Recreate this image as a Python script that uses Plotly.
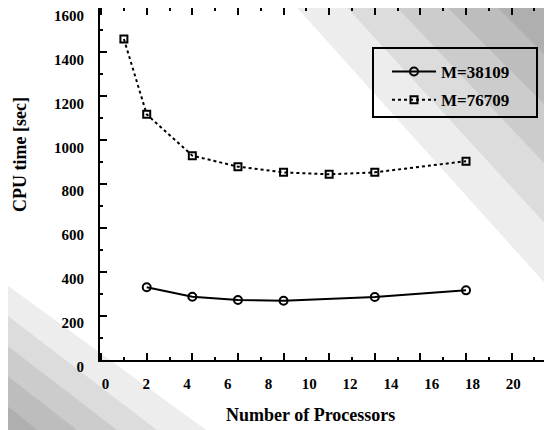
import plotly.graph_objects as go

# ---- data ----
procs_a = [2, 4, 6, 8, 12, 16]
cpu_a = [331, 288, 273, 270, 287, 317]
name_a = "M=38109"

procs_b = [1, 2, 4, 6, 8, 10, 12, 16]
cpu_b = [1461, 1118, 930, 880, 854, 845, 854, 905]
name_b = "M=76709"

x_tick_labels = [0, 2, 4, 6, 8, 10, 12, 14, 16, 18, 20]
y_tick_vals = [0, 200, 400, 600, 800, 1000, 1200, 1400, 1600]

FONT = "Liberation Serif, Times New Roman, serif"
OFF = 8                     # page body margin of the browser
W, H = 552 - OFF, 430 - OFF
# plot area in page pixels: x 100..552, y 8..360
L, R, T, B = 100 - OFF, 0, 8 - OFF, H - (360 - OFF)
PW, PH = W - L - R, H - T - B


def px(x, y):
    """page pixel -> paper coords"""
    fx, fy = x - OFF, y - OFF
    return (fx - L) / PW, (H - B - fy) / PH


def poly(points):
    pts = [px(x, y) for x, y in points]
    return "M " + " L ".join(f"{a:.4f},{b:.4f}" for a, b in pts) + " Z"


fig = go.Figure()
fig.add_trace(go.Scatter(
    x=procs_a, y=cpu_a, name=name_a, mode="lines+markers", legendgroup="a",
    line=dict(color="black", width=2),
    marker=dict(symbol="circle-open", size=8, color="black", line=dict(width=2)),
))
fig.add_trace(go.Scatter(
    x=procs_b, y=cpu_b, name=name_b, mode="lines+markers", legendgroup="b",
    line=dict(color="black", width=2, dash="dot"),
    marker=dict(symbol="square-open", size=7, color="black", line=dict(width=2)),
))
# invisible trace to activate the label axis
fig.add_trace(go.Scatter(x=[None], y=[None], xaxis="x2", showlegend=False,
                         hoverinfo="skip"))

# halftone-like scan shading (graded)
shapes = []
for x0, y1 in [(290, 300), (340, 240), (390, 180), (440, 120), (490, 70)]:
    shapes.append(dict(type="path", xref="paper", yref="paper",
                       path=poly([(x0, 0), (560, 0), (560, y1)]),
                       fillcolor="rgba(0,0,0,0.07)", line=dict(width=0), layer="below"))
for y0, x1 in [(280, 220), (310, 170), (340, 130), (370, 90), (400, 50)]:
    shapes.append(dict(type="path", xref="paper", yref="paper",
                       path=poly([(0, y0), (0, 440), (x1, 440)]),
                       fillcolor="rgba(0,0,0,0.07)", line=dict(width=0), layer="below"))
# legend frame
lx0, ly0 = px(373, 117)
lx1, ly1 = px(537, 48)
shapes.append(dict(type="rect", xref="paper", yref="paper", x0=lx0, y0=ly0,
                   x1=lx1, y1=ly1, line=dict(color="black", width=2),
                   fillcolor="rgba(0,0,0,0)", layer="above"))

tickfont = dict(family=FONT, size=15, color="black", weight="bold")
leg_x, leg_y = px(387, 54)
xt_x, xt_y = px(310, 415)
yt_x, yt_y = px(20, 155)
fig.update_layout(
    width=W, height=H,
    margin=dict(l=L, r=R, t=T, b=B, autoexpand=False),
    paper_bgcolor="white", plot_bgcolor="rgba(0,0,0,0)",
    showlegend=True,
    shapes=shapes,
    xaxis=dict(
        range=[-0.048, 19.77], showgrid=False, zeroline=False, automargin=False,
        showline=True, linewidth=2, linecolor="black", mirror="ticks",
        ticks="inside", tickmode="linear", tick0=0, dtick=2, ticklen=7,
        tickwidth=2, tickcolor="black", showticklabels=False,
        minor=dict(ticks="inside", dtick=1, ticklen=3, tickwidth=2, tickcolor="black"),
    ),
    xaxis2=dict(
        overlaying="x", anchor="y", side="bottom", automargin=False,
        range=[-0.265, 21.90], showgrid=False, zeroline=False, showline=False,
        ticks="", tickmode="array", tickvals=x_tick_labels,
        ticktext=[str(v) for v in x_tick_labels],
        tickfont=tickfont, ticklabelstandoff=13, ticklabeloverflow="allow",
    ),
    yaxis=dict(
        range=[0, 1602], showgrid=False, zeroline=False, automargin=False,
        showline=True, linewidth=2, linecolor="black", mirror=False,
        ticks="inside", tickmode="array", tickvals=y_tick_vals, ticklen=7,
        tickwidth=2, tickcolor="black",
        minor=dict(ticks="inside", dtick=100, ticklen=3, tickwidth=2, tickcolor="black"),
        tickfont=tickfont, ticklabelshift=7, ticklabelstandoff=11,
        ticklabeloverflow="allow",
    ),
    legend=dict(
        x=leg_x, y=leg_y, xanchor="left", yanchor="top",
        bgcolor="rgba(0,0,0,0)", borderwidth=0, itemwidth=44,
        font=dict(family=FONT, size=17, color="black", weight="bold"),
        tracegroupgap=3,
    ),
    annotations=[
        dict(text="Number of Processors", xref="paper", yref="paper",
             x=xt_x, y=xt_y, showarrow=False,
             xanchor="center", yanchor="middle",
             font=dict(family=FONT, size=18, color="black", weight="bold")),
        dict(text="CPU time [sec]", xref="paper", yref="paper",
             x=yt_x, y=yt_y, showarrow=False,
             textangle=-90, xanchor="center", yanchor="middle",
             font=dict(family=FONT, size=18, color="black", weight="bold")),
    ],
)

fig.write_html("out.html")
